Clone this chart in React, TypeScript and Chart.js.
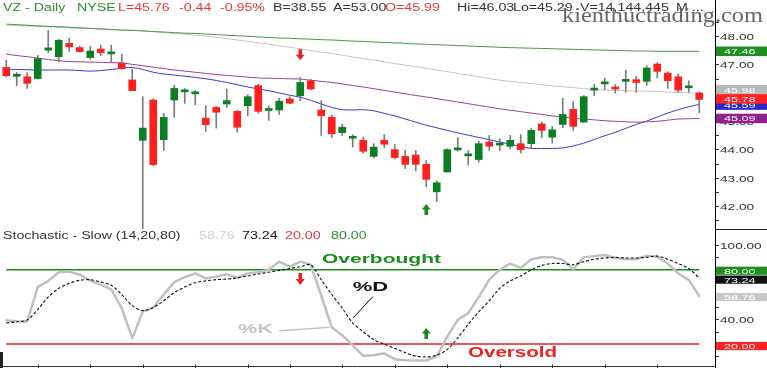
import React, { useEffect, useRef } from "react";
import { Chart, registerables } from "chart.js";
Chart.register(...registerables);

// ---------- DATA ----------
const opens = [46.89,46.58,46.56,46.50,47.50,47.27,47.74,47.59,47.24,47.54,
  47.37,47.04,46.45,44.32,45.74,44.34,45.74,46.03,45.96,45.10,
  45.48,45.60,45.34,45.54,46.25,45.37,45.39,45.78,45.89,46.42,
  45.39,45.13,44.59,44.39,44.32,43.75,44.32,43.99,43.75,43.80,
  43.47,42.50,43.20,43.98,43.77,43.64,44.26,44.15,44.11,44.20,
  44.20,44.90,44.43,44.88,45.41,44.96,46.09,46.31,46.17,46.40,
  46.46,46.40,47.01,46.69,46.56,46.17,45.99];
const highs = [47.15,46.71,46.71,47.32,48.20,47.88,47.92,47.65,47.64,47.68,
  47.68,47.36,46.83,45.86,45.78,45.27,46.27,46.15,46.09,45.54,
  45.51,46.13,45.37,45.93,46.30,45.54,45.81,45.86,46.54,46.47,
  45.72,45.22,44.88,44.52,44.43,44.20,44.52,44.17,43.96,43.96,
  43.61,42.89,44.02,44.41,43.96,44.29,44.49,44.37,44.49,44.52,
  44.74,44.96,44.81,45.80,45.69,45.90,46.30,46.52,46.28,46.80,
  46.57,46.95,47.06,46.74,46.66,46.42,46.03];
const lows = [46.56,46.25,46.15,46.48,47.41,47.09,47.45,47.43,47.18,47.30,
  47.06,46.83,46.07,41.20,43.42,43.96,45.13,45.62,45.57,44.63,
  44.75,45.48,44.61,45.19,45.27,45.02,45.23,45.61,45.72,46.10,
  44.49,44.41,44.49,44.08,43.87,43.70,44.05,43.66,43.32,43.24,
  42.68,42.15,43.20,43.94,43.44,43.55,43.96,43.96,44.02,43.87,
  44.03,44.41,44.22,44.76,44.67,44.96,45.89,46.11,45.98,46.01,
  46.01,46.25,46.52,46.15,46.01,46.01,45.29];
const closes = [46.60,46.62,46.33,47.20,47.58,47.85,47.62,47.45,47.47,47.41,
  47.41,46.85,46.07,44.75,43.46,45.13,46.15,46.07,46.00,44.87,
  45.31,45.72,44.78,45.86,45.34,45.41,45.70,45.63,46.36,46.13,
  45.19,44.55,44.78,44.43,43.93,44.08,44.18,43.71,43.47,43.47,
  42.94,42.82,43.99,44.03,43.81,44.20,44.11,44.22,44.32,43.99,
  44.67,44.67,44.69,45.23,44.81,45.86,46.13,46.35,46.13,46.44,
  46.36,46.87,46.75,46.42,46.09,46.21,45.76];

const maGreen = [48.42,48.40,48.38,48.36,48.34,48.33,48.31,48.29,48.27,48.25,
  48.23,48.21,48.20,48.18,48.16,48.14,48.12,48.10,48.09,48.07,
  48.05,48.03,48.01,47.99,47.97,47.95,47.93,47.92,47.90,47.89,
  47.87,47.86,47.84,47.82,47.81,47.79,47.77,47.76,47.74,47.72,
  47.71,47.69,47.68,47.66,47.65,47.63,47.62,47.60,47.59,47.58,
  47.57,47.56,47.55,47.54,47.53,47.52,47.51,47.50,47.49,47.48,
  47.47,47.47,47.46,47.46,47.46,47.46,47.46];
const maGray = [48.39,48.37,48.35,48.34,48.32,48.31,48.29,48.27,48.26,48.24,
  48.23,48.21,48.20,48.18,48.15,48.12,48.09,48.06,48.03,48.00,
  47.96,47.91,47.86,47.81,47.76,47.71,47.65,47.60,47.55,47.49,
  47.43,47.38,47.32,47.26,47.20,47.15,47.09,47.03,46.97,46.92,
  46.86,46.80,46.74,46.68,46.62,46.56,46.50,46.44,46.40,46.36,
  46.32,46.28,46.24,46.21,46.18,46.14,46.11,46.09,46.08,46.07,
  46.06,46.05,46.04,46.02,46.01,46.00,45.98];
const maPurple = [47.36,47.31,47.27,47.22,47.17,47.13,47.10,47.09,47.08,47.07,
  47.06,47.05,47.00,46.95,46.90,46.85,46.80,46.76,46.72,46.68,
  46.64,46.61,46.58,46.55,46.52,46.51,46.50,46.49,46.48,46.44,
  46.40,46.36,46.31,46.25,46.20,46.14,46.08,46.02,45.96,45.90,
  45.85,45.79,45.73,45.67,45.61,45.55,45.49,45.43,45.38,45.33,
  45.28,45.23,45.18,45.14,45.10,45.07,45.04,45.01,44.99,44.97,
  44.96,44.97,44.99,45.03,45.07,45.08,45.09];
const maBlue = [46.83,46.82,46.81,46.80,46.80,46.80,46.80,46.78,46.76,46.78,
  46.82,46.86,46.89,46.82,46.72,46.66,46.62,46.58,46.54,46.49,
  46.43,46.36,46.28,46.20,46.13,46.07,45.99,45.91,45.84,45.73,
  45.60,45.48,45.40,45.39,45.40,45.36,45.27,45.18,45.07,44.96,
  44.85,44.76,44.67,44.58,44.50,44.42,44.34,44.26,44.18,44.10,
  44.03,44.03,44.03,44.05,44.12,44.22,44.35,44.48,44.60,44.74,
  44.88,45.00,45.14,45.28,45.40,45.50,45.59];

const stochK = [39,38.5,38.2,66,71,78,78.5,76,71.2,68,
  64.2,49,24.7,46.2,49.5,60,70,74,77,73,
  74.5,76.3,73.7,77,78,80,86.6,82.5,86.6,84,
  59,33.6,27,19,10.5,11,12.5,7.8,7,6.7,
  6.7,10,26,39.5,45,58,72,80,85,81.5,
  88.5,90.1,90.1,88,80.4,90,91,91.9,89.5,88.5,
  88.5,91.4,90.5,85,77,71.8,58.76];
const stochD = [37,38,39.5,48,58,65,69,71.5,72,70,
  67.5,60,51,47,49.5,55,61.5,66,69.5,71,
  72,72.5,73.5,75,76.5,78,79.5,81,82.5,84,
  72,60,49,37,30,23.5,20,16.5,13,10.3,
  9.5,11,15.5,25,36,46,55,65,71,75,
  80,83.5,85,85,84,86.5,88.5,89.5,90,89.5,
  89.5,90,91,88.5,85,81,73.24];

const stochLevels = [80, 20];
const weekTickIdx = [3, 8, 13, 18, 23, 27, 32, 37, 42, 47, 52, 57, 62];
const signalSell = 28;
const signalBuy = 40;

const priceTags = [47.46, 45.98, 45.59, 45.78, 45.09];
const priceTagColors = ["#1f8f1f", "#b9b9b9", "#2a2ac8", "#ff2222", "#8e218e"];
const stochTags = [80.0, 73.24, 58.76, 20.0];
const stochTagColors = ["#1f8f1f", "#111111", "#c8c8c8", "#ff2222"];

const headerSegs = [
  { t: "VZ - Daily", x: 3, c: "#2b8f2b" },
  { t: "NYSE", x: 77, c: "#2b8f2b" },
  { t: "L=45.76", x: 118, c: "#e23a3a" },
  { t: "-0.44", x: 179, c: "#e23a3a" },
  { t: "-0.95%", x: 220, c: "#e23a3a" },
  { t: "B=38.55", x: 273, c: "#333333" },
  { t: "A=53.00", x: 333, c: "#333333" },
  { t: "O=45.99", x: 385, c: "#e23a3a" },
  { t: "Hi=46.03", x: 457, c: "#333333" },
  { t: "Lo=45.29", x: 513, c: "#333333" },
  { t: "V=14,144,445", x: 580, c: "#333333" },
  { t: "M ...", x: 676, c: "#333333" },
];
const stochSegs = [
  { t: "Stochastic - Slow (14,20,80)", x: 3, c: "#333333" },
  { t: "58.76", x: 199, c: "#cfcfcf" },
  { t: "73.24", x: 242, c: "#111111" },
  { t: "20.00", x: 285, c: "#e03a3a" },
  { t: "80.00", x: 331, c: "#2f8f2f" },
];

const labels = opens.map((_, i) => `D${i + 1}`).concat([""]);

// ---------- helpers ----------
const SANS = '"Liberation Sans", Arial, sans-serif';
const SERIF = '"Liberation Serif", "DejaVu Serif", serif';

function txt(ctx: any, s: string, x: number, y: number, size: number, color: string, sx = 1.42, bold = false, family = SANS) {
  ctx.save();
  ctx.font = `${bold ? "bold " : ""}${size}px ${family}`;
  ctx.fillStyle = color;
  ctx.textAlign = "left";
  ctx.textBaseline = "alphabetic";
  ctx.translate(x, y);
  ctx.scale(sx, 1);
  ctx.fillText(s, 0, 0);
  ctx.restore();
}
function txtFit(ctx: any, s: string, x: number, y: number, size: number, color: string, width: number, bold = false, family = SANS) {
  ctx.save();
  ctx.font = `${bold ? "bold " : ""}${size}px ${family}`;
  const w = ctx.measureText(s).width || 1;
  ctx.restore();
  txt(ctx, s, x, y, size, color, width / w, bold, family);
}
function arrow(ctx: any, x: number, yTail: number, yTip: number, color: string) {
  const dir = yTip > yTail ? 1 : -1;
  const len = Math.abs(yTip - yTail);
  const yNeck = yTip - dir * len * 0.5;
  ctx.save();
  ctx.fillStyle = color;
  ctx.beginPath();
  ctx.moveTo(x - 1.8, yTail);
  ctx.lineTo(x + 1.8, yTail);
  ctx.lineTo(x + 1.8, yNeck);
  ctx.lineTo(x + 4.5, yNeck);
  ctx.lineTo(x, yTip);
  ctx.lineTo(x - 4.5, yNeck);
  ctx.lineTo(x - 1.8, yNeck);
  ctx.closePath();
  ctx.fill();
  ctx.restore();
}
function line(ctx: any, x1: number, y1: number, x2: number, y2: number, color: string, w = 1) {
  ctx.save();
  ctx.strokeStyle = color;
  ctx.lineWidth = w;
  ctx.beginPath();
  ctx.moveTo(x1, y1);
  ctx.lineTo(x2, y2);
  ctx.stroke();
  ctx.restore();
}
function tag(ctx: any, left: number, cy: number, h: number, bg: string, text: string) {
  ctx.save();
  ctx.fillStyle = bg;
  ctx.fillRect(left, cy - h / 2, 767 - left, h);
  ctx.restore();
  txt(ctx, text, left + 8, cy + 2.9, 8, "#ffffff", 1.58);
}

// ---------- plugins ----------
const topDecor = {
  id: "topDecor",
  afterDraw(chart: any) {
    const ctx = chart.ctx;
    const ca = chart.chartArea;
    const y = chart.scales.y;
    const x = chart.scales.x;
    const H = chart.height;
    const ax = ca.right;
    headerSegs.forEach((s) => txt(ctx, s.t, s.x, 11, 10, s.c, 1.42));
    // axis
    line(ctx, ax + 0.5, 0, ax + 0.5, H, "#000", 1);
    line(ctx, ax, H - 0.5, 767, H - 0.5, "#222", 1);
    for (let v = Math.ceil(y.min * 2) / 2; v <= 48.5; v += 0.5) {
      const py = Math.round(y.getPixelForValue(v)) + 0.5;
      line(ctx, ax + 1, py, ax + 4, py, "#333", 1);
      if (Math.abs(v - Math.round(v)) < 1e-6 && v >= 42) {
        txt(ctx, v.toFixed(2), ax + 5, py + 3, 8.5, "#333", 1.6);
      }
    }
    // price tags
    const shifts = [0, -3.5, 0.8, 0, 0];
    priceTags.forEach((v, i) => {
      tag(ctx, ax + 1, y.getPixelForValue(v) + shifts[i], 9.5, priceTagColors[i], v.toFixed(2));
    });
    // signal arrows
    arrow(ctx, x.getPixelForValue(signalSell), y.getPixelForValue(47.53), y.getPixelForValue(47.15), "#e82424");
    arrow(ctx, x.getPixelForValue(signalBuy), y.getPixelForValue(41.68), y.getPixelForValue(42.07), "#1a8a1a");
    // watermark
    txtFit(ctx, "kienthuctrading.com", 562, 22, 20, "#666666", 201, false, SERIF);
  },
};

const botDecor = {
  id: "botDecor",
  beforeDatasetsDraw(chart: any) {
    const ctx = chart.ctx;
    const x = chart.scales.x;
    const y = chart.scales.y;
    const cols = ["#1f8c1f", "#e21f1f"];
    stochLevels.forEach((v, i) => {
      const py = y.getPixelForValue(v);
      line(ctx, x.getPixelForValue(0), py, x.getPixelForValue(opens.length - 1), py, cols[i], 1.5);
    });
  },
  afterDraw(chart: any) {
    const ctx = chart.ctx;
    const ca = chart.chartArea;
    const y = chart.scales.y;
    const x = chart.scales.x;
    const H = chart.height;
    const ax = ca.right;
    stochSegs.forEach((s) => txt(ctx, s.t, s.x, 9, 10, s.c, 1.42));
    // axis
    line(ctx, ax + 0.5, 0, ax + 0.5, H, "#000", 1);
    for (let v = 10; v <= 100; v += 10) {
      const py = Math.round(y.getPixelForValue(v)) + 0.5;
      line(ctx, ax + 1, py, ax + 4, py, "#333", 1);
      if (v % 20 === 0) txt(ctx, v.toFixed(2), ax + 5, py + 3, 8.5, "#333", 1.6);
    }
    const shifts = [1, 1.5, 1, 2];
    stochTags.forEach((v, i) => {
      tag(ctx, ax + 1, y.getPixelForValue(v) + shifts[i], 8.2, stochTagColors[i], v.toFixed(2));
    });
    // bottom axis
    const by = 136.5;
    line(ctx, 0, by, ax, by, "#333", 1);
    weekTickIdx.forEach((i) => {
      const px = Math.round(x.getPixelForValue(i)) + 0.5;
      line(ctx, px, by - 2, px, H, "#333", 1);
    });
    ctx.save();
    ctx.fillStyle = "#222";
    ctx.fillRect(0, 122, 3, 16);
    ctx.restore();
    // annotations
    txtFit(ctx, "Overbought", x.getPixelForValue(30.07), y.getPixelForValue(85.7), 13, "#1a8c1a", 119, true);
    txtFit(ctx, "Oversold", x.getPixelForValue(43.98), y.getPixelForValue(9.3), 14, "#ee2222", 89, true);
    txtFit(ctx, "%D", x.getPixelForValue(33.0), y.getPixelForValue(63.1), 13, "#111111", 35.5, true);
    txtFit(ctx, "%K", x.getPixelForValue(22.07), y.getPixelForValue(28.7), 13, "#c4c4c4", 35, true);
    line(ctx, x.getPixelForValue(34.9), y.getPixelForValue(58.2), x.getPixelForValue(33.02), y.getPixelForValue(41), "#111", 1);
    line(ctx, x.getPixelForValue(26.0), y.getPixelForValue(30.8), x.getPixelForValue(30.83), y.getPixelForValue(33.5), "#c4c4c4", 1.5);
    arrow(ctx, x.getPixelForValue(signalSell), y.getPixelForValue(77.4), y.getPixelForValue(67.7), "#e82424");
    arrow(ctx, x.getPixelForValue(signalBuy), y.getPixelForValue(24.1), y.getPixelForValue(33), "#1a8a1a");
  },
};

const GREEN = "#0c7f24";
const RED = "#ff1f1f";

export default function App() {
  const topRef = useRef<HTMLCanvasElement | null>(null);
  const botRef = useRef<HTMLCanvasElement | null>(null);

  useEffect(() => {
    const common = {
      animation: false,
      responsive: false,
      devicePixelRatio: 1,
      events: [],
      layout: { padding: { left: 1, right: 52, top: 0, bottom: 0 } },
      plugins: { legend: { display: false }, tooltip: { enabled: false }, title: { display: false } },
    };
    const lineDs = (data: number[], color: string, order: number) => ({
      type: "line",
      data,
      borderColor: color,
      borderWidth: 1,
      pointRadius: 0,
      tension: 0.3,
      fill: false,
      order,
    });

    const top = new Chart(topRef.current as HTMLCanvasElement, {
      type: "bar",
      data: {
        labels,
        datasets: [
          {
            type: "bar",
            data: opens.map((o, i) => [o, closes[i]]),
            backgroundColor: opens.map((o, i) => (closes[i] >= o ? GREEN : RED)),
            borderWidth: 0,
            barThickness: 7,
            minBarLength: 2,
            grouped: false,
            order: 0,
          },
          {
            type: "bar",
            data: lows.map((l, i) => [l, highs[i]]),
            backgroundColor: "#7c7c7c",
            borderWidth: 0,
            barThickness: 1,
            grouped: false,
            order: 1,
          },
          lineDs(maGreen, "#3c9a3c", 2),
          lineDs(maGray, "#c4c4c4", 2),
          lineDs(maPurple, "#9b3f9b", 2),
          lineDs(maBlue, "#3a3ad0", 2),
        ] as any,
      },
      options: {
        ...common,
        scales: {
          x: { type: "category", display: false, offset: true },
          y: { display: false, min: 41.153, max: 49.271 },
        },
      } as any,
      plugins: [topDecor],
    });

    const bot = new Chart(botRef.current as HTMLCanvasElement, {
      type: "line",
      data: {
        labels,
        datasets: [
          {
            data: stochK,
            borderColor: "#c0c0c0",
            borderWidth: 2.5,
            pointRadius: 0,
            tension: 0,
            borderJoinStyle: "round",
            borderCapStyle: "round",
            order: 1,
          },
          {
            data: stochD,
            borderColor: "#111111",
            borderWidth: 1.1,
            borderDash: [3, 2],
            pointRadius: 0,
            tension: 0.3,
            order: 0,
          },
        ] as any,
      },
      options: {
        ...common,
        scales: {
          x: { type: "category", display: false, offset: true },
          y: { display: false, min: 0.65, max: 112.1 },
        },
      } as any,
      plugins: [botDecor],
    });

    return () => {
      top.destroy();
      bot.destroy();
    };
  }, []);

  return (
    <div style={{ position: "fixed", left: 0, top: 0, width: 767, height: 368, background: "#fff", overflow: "hidden" }}>
      <canvas ref={topRef} width={767} height={230} style={{ position: "absolute", left: 0, top: 0, width: 767, height: 230 }} />
      <canvas ref={botRef} width={767} height={138} style={{ position: "absolute", left: 0, top: 230, width: 767, height: 138 }} />
    </div>
  );
}
